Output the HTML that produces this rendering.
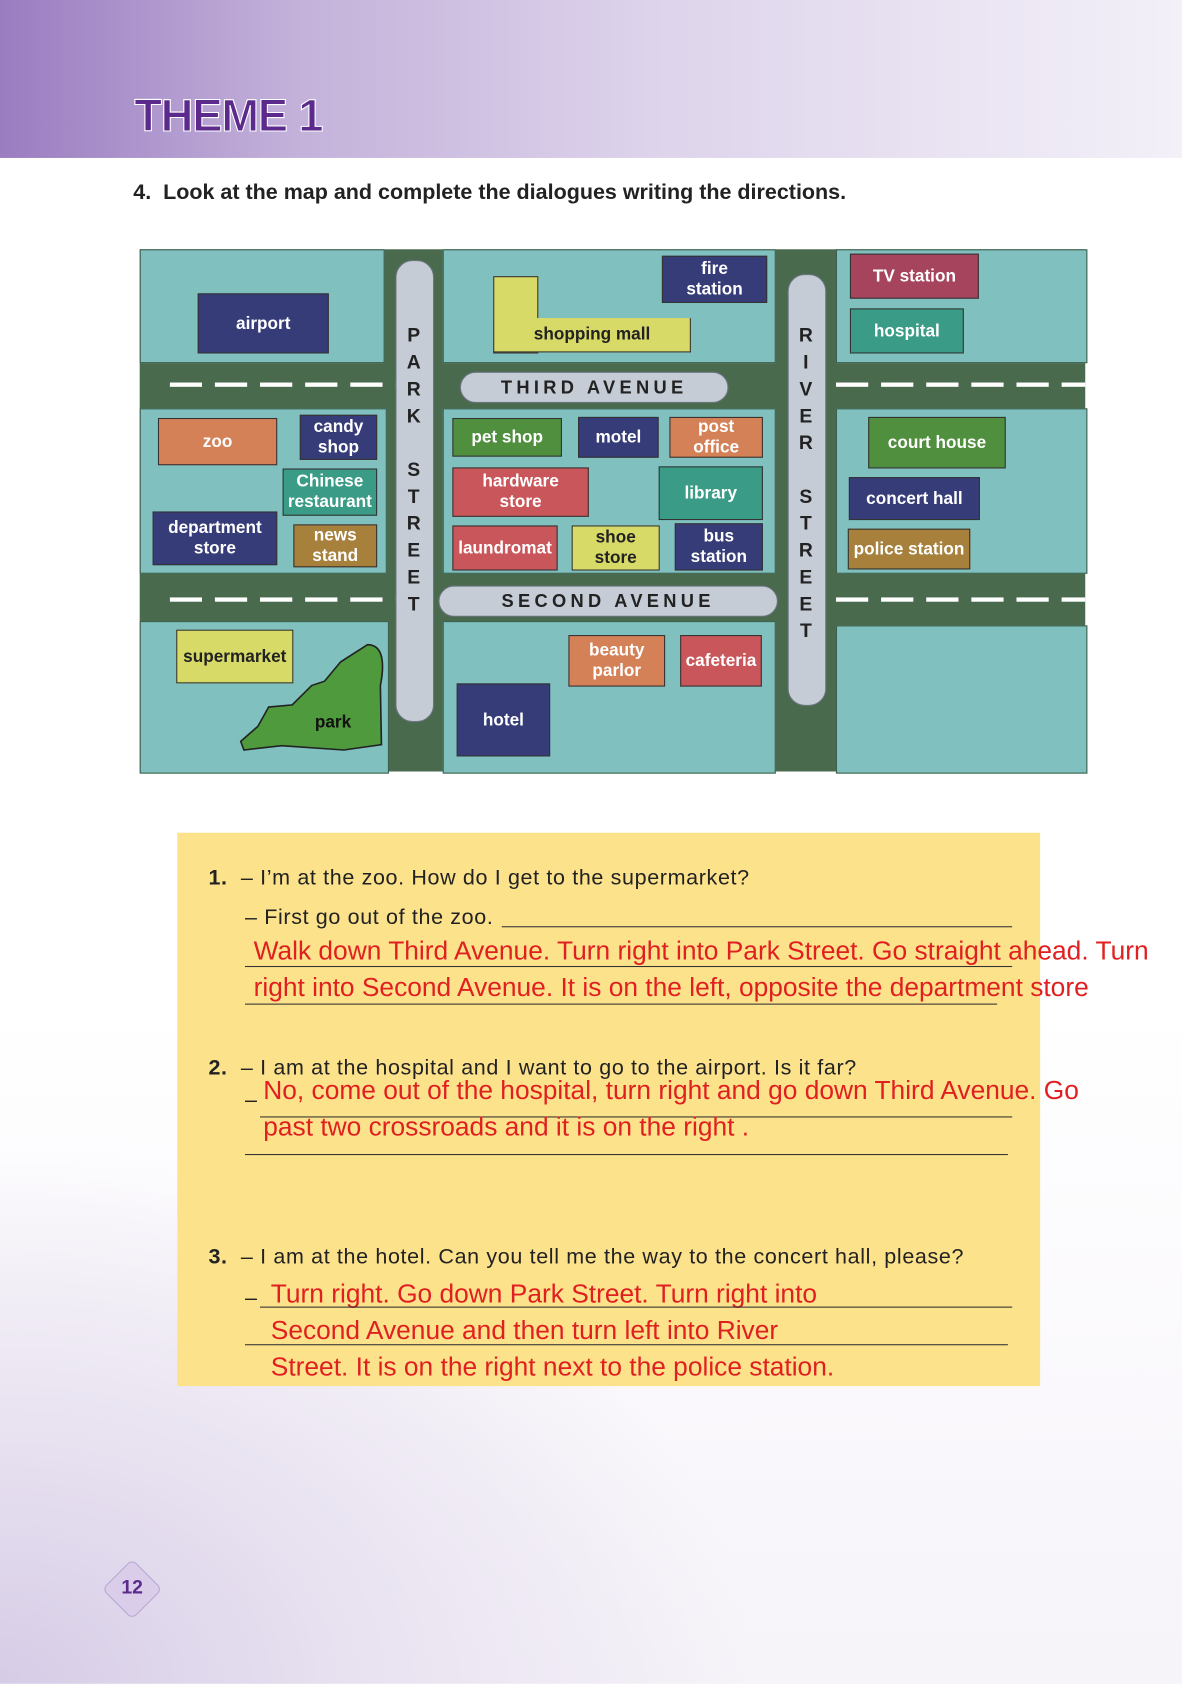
<!DOCTYPE html>
<html><head><meta charset="utf-8"><style>
html,body{margin:0;padding:0;width:1182px;height:1684px;overflow:hidden;background:#fff}
#w{position:absolute;left:0;top:0;width:1100px;height:1567px;transform:scale(1.0745);transform-origin:0 0;font-family:"Liberation Sans",sans-serif;
background:radial-gradient(ellipse 700px 500px at 0% 100%,#d6cce6 0%,#e9e3f1 50%,rgba(255,255,255,0) 100%),linear-gradient(180deg,#fff 0%,#fff 60%,#f6f3f9 100%)}
.a{position:absolute}
.hdr{left:0;top:0;width:1100px;height:147px;background:linear-gradient(90deg,#9a7cc0 0%,#c3b1da 25%,#ddd3eb 55%,#f3f0f8 100%)}
.th{left:125px;top:84px;font-size:42px;font-weight:bold;color:#5b2a8c;-webkit-text-stroke:1px #fff;letter-spacing:-1px}
.b{position:absolute;background:#80c1c0;border:1px solid #3d5e4a}
.l{position:absolute;color:#fff;font-weight:bold;font-size:16px;display:flex;align-items:center;justify-content:center;text-align:center;line-height:19px;border:1px solid #333;box-sizing:border-box}
.nv{background:#363c78}.rd{background:#c9565a}.or{background:#d58158}.gr{background:#4f8f3e}.tl{background:#3a9c86}.yl{background:#d8da68;color:#222}.br{background:#a7803c}.mr{background:#a5445c}
.pill{position:absolute;background:#c6ccd6;border:1px solid #6a7580;border-radius:16px;color:#222;font-weight:bold;font-size:17px;letter-spacing:4px;text-align:center}
.dash{position:absolute;height:4px;background-image:linear-gradient(90deg,#fff 0 30px,transparent 30px 42px);background-size:42px 4px}
.q{position:absolute;font-size:20px;color:#222;letter-spacing:0.6px;white-space:nowrap}
.r{position:absolute;font-size:24.5px;color:#e02020;white-space:nowrap}
.ln{position:absolute;height:1px;background:#333}
</style></head><body><div id="w">
<div class="a hdr"></div>
<div class="a th">THEME 1</div>
<div class="a" style="left:124px;top:168px;font-size:20px;font-weight:bold;color:#222;white-space:nowrap">4.&nbsp; Look at the map and complete the dialogues writing the directions.</div>

<div class="a" style="left:130px;top:232px;width:880px;height:486px;background:#4a6a4e"></div>
<div class="b" style="left:130px;top:232px;width:226px;height:104px"></div>
<div class="b" style="left:412px;top:232px;width:308px;height:104px"></div>
<div class="b" style="left:778px;top:232px;width:232px;height:104px"></div>
<div class="b" style="left:130px;top:380px;width:228px;height:152px"></div>
<div class="b" style="left:412px;top:380px;width:308px;height:152px"></div>
<div class="b" style="left:778px;top:380px;width:232px;height:152px"></div>
<div class="b" style="left:130px;top:578px;width:230px;height:140px"></div>
<div class="b" style="left:412px;top:578px;width:308px;height:140px"></div>
<div class="b" style="left:778px;top:582px;width:232px;height:136px"></div>
<div class="dash" style="left:158px;top:356px;width:210px"></div>
<div class="dash" style="left:778px;top:356px;width:232px"></div>
<div class="dash" style="left:158px;top:556px;width:210px"></div>
<div class="dash" style="left:778px;top:556px;width:232px"></div>
<div class="pill" style="left:368px;top:242px;width:34px;height:428px"></div>
<div class="pill" style="left:733px;top:255px;width:34px;height:400px"></div>
<div class="a" style="left:375px;top:300px;font-size:18px;font-weight:bold;line-height:25px;color:#222;width:20px;text-align:center">P<br>A<br>R<br>K<br><br>S<br>T<br>R<br>E<br>E<br>T</div>
<div class="a" style="left:740px;top:300px;font-size:18px;font-weight:bold;line-height:25px;color:#222;width:20px;text-align:center">R<br>I<br>V<br>E<br>R<br><br>S<br>T<br>R<br>E<br>E<br>T</div>
<div class="pill" style="left:428px;top:346px;width:248px;height:27px;line-height:27px">THIRD AVENUE</div>
<div class="pill" style="left:408px;top:545px;width:314px;height:27px;line-height:27px">SECOND AVENUE</div>
<div class="a" style="left:459px;top:257px;width:40px;height:70px;background:#d8da68;border:1px solid #333"></div>
<div class="l yl" style="left:459px;top:296px;width:184px;height:32px;border-top:none">shopping mall</div>
<div class="l nv" style="left:184px;top:273px;width:122px;height:56px">airport</div>
<div class="l nv" style="left:616px;top:238px;width:98px;height:44px">fire<br>station</div>
<div class="l mr" style="left:791px;top:236px;width:120px;height:42px">TV station</div>
<div class="l tl" style="left:791px;top:287px;width:106px;height:42px">hospital</div>
<div class="l or" style="left:147px;top:389px;width:111px;height:44px">zoo</div>
<div class="l nv" style="left:279px;top:386px;width:72px;height:42px">candy<br>shop</div>
<div class="l tl" style="left:263px;top:436px;width:88px;height:44px">Chinese<br>restaurant</div>
<div class="l nv" style="left:142px;top:476px;width:116px;height:50px">department<br>store</div>
<div class="l br" style="left:273px;top:488px;width:78px;height:40px">news<br>stand</div>
<div class="l gr" style="left:421px;top:389px;width:102px;height:36px">pet shop</div>
<div class="l nv" style="left:538px;top:388px;width:75px;height:38px">motel</div>
<div class="l or" style="left:623px;top:388px;width:87px;height:38px">post<br>office</div>
<div class="l rd" style="left:421px;top:435px;width:127px;height:46px">hardware<br>store</div>
<div class="l tl" style="left:613px;top:434px;width:97px;height:50px">library</div>
<div class="l rd" style="left:421px;top:489px;width:98px;height:42px">laundromat</div>
<div class="l yl" style="left:532px;top:489px;width:82px;height:42px">shoe<br>store</div>
<div class="l nv" style="left:628px;top:487px;width:82px;height:44px">bus<br>station</div>
<div class="l gr" style="left:808px;top:388px;width:128px;height:48px">court house</div>
<div class="l nv" style="left:790px;top:444px;width:122px;height:40px">concert hall</div>
<div class="l br" style="left:789px;top:492px;width:114px;height:38px">police station</div>
<div class="l yl" style="left:164px;top:586px;width:109px;height:50px">supermarket</div>
<svg class="a" style="left:222px;top:598px" width="138" height="104"><path d="M120 2 C135 2 136 20 132 40 L133 95 L98 100 L40 96 L5 100 L2 92 L18 78 L28 60 L50 58 L68 40 L80 36 L95 18 Z" fill="#4e9a3c" stroke="#222" stroke-width="1.5"/></svg>
<div class="a" style="left:293px;top:664px;color:#111;font-weight:bold;font-size:16px">park</div>
<div class="l or" style="left:529px;top:591px;width:90px;height:48px;color:#fff">beauty<br>parlor</div>
<div class="l rd" style="left:633px;top:591px;width:76px;height:48px">cafeteria</div>
<div class="l nv" style="left:425px;top:636px;width:87px;height:68px">hotel</div>

<div class="a" style="left:165px;top:775px;width:803px;height:515px;background:#fde28c"></div>
<div class="q" style="left:194px;top:806px"><b>1.</b>&nbsp; – I’m at the zoo. How do I get to the supermarket?</div>
<div class="q" style="left:228px;top:843px">– First go out of the zoo.</div>
<div class="ln" style="left:467px;top:862px;width:475px"></div>
<div class="r" style="left:236px;top:872px">Walk down Third Avenue. Turn right into Park Street. Go straight ahead. Turn</div>
<div class="ln" style="left:228px;top:899px;width:714px"></div>
<div class="r" style="left:236px;top:906px">right into Second Avenue. It is on the left, opposite the department store</div>
<div class="ln" style="left:228px;top:934px;width:700px"></div>
<div class="q" style="left:194px;top:983px"><b>2.</b>&nbsp; – I am at the hospital and I want to go to the airport. Is it far?</div>
<div class="q" style="left:228px;top:1013px">–</div>
<div class="r" style="left:245px;top:1002px">No, come out of the hospital, turn right and go down Third Avenue. Go</div>
<div class="ln" style="left:242px;top:1039px;width:700px"></div>
<div class="r" style="left:245px;top:1036px">past two crossroads and it is on the right .</div>
<div class="ln" style="left:228px;top:1074px;width:710px"></div>
<div class="q" style="left:194px;top:1159px"><b>3.</b>&nbsp; – I am at the hotel. Can you tell me the way to the concert hall, please?</div>
<div class="q" style="left:228px;top:1197px">–</div>
<div class="r" style="left:252px;top:1191px">Turn right. Go down Park Street. Turn right into</div>
<div class="ln" style="left:242px;top:1216px;width:700px"></div>
<div class="r" style="left:252px;top:1225px">Second Avenue and then turn left into River</div>
<div class="ln" style="left:228px;top:1251px;width:710px"></div>
<div class="r" style="left:252px;top:1259px">Street. It is on the right next to the police station.</div>

<div class="a" style="left:103px;top:1459px;width:38px;height:38px;background:#d9cdea;border:1px solid #b9a8d3;transform:rotate(45deg);border-radius:6px"></div>
<div class="a" style="left:106px;top:1467px;width:34px;text-align:center;color:#5b2a8c;font-weight:bold;font-size:18px">12</div>
</div></body></html>
